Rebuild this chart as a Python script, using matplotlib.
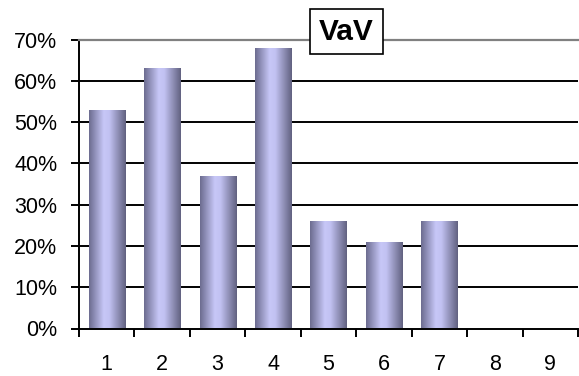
import numpy as np
import matplotlib.pyplot as plt
from matplotlib.colors import LinearSegmentedColormap

# dados do gráfico
categorias = [1, 2, 3, 4, 5, 6, 7, 8, 9]
valores = [0.53, 0.63, 0.37, 0.68, 0.26, 0.21, 0.26, 0.0, 0.0]
y_ticks = [0.0, 0.1, 0.2, 0.3, 0.4, 0.5, 0.6, 0.7]
y_labels = ['0%', '10%', '20%', '30%', '40%', '50%', '60%', '70%']
titulo = 'VaV'

plt.rcParams['font.family'] = ['Liberation Sans', 'DejaVu Sans']

fig = plt.figure(figsize=(5.79, 3.76), dpi=100)
ax = fig.add_axes([79/579, (376-328.5)/376, 499/579, (328.5-39.5)/376])

# gradiente horizontal das barras (estilo Excel)
cmap = LinearSegmentedColormap.from_list('barra', [
    (0.00, (0.42, 0.42, 0.56)),
    (0.40, (0.78, 0.78, 0.97)),
    (0.55, (0.76, 0.76, 0.95)),
    (1.00, (0.38, 0.38, 0.50)),
])
grad = np.linspace(0, 1, 256).reshape(1, -1)

largura = 0.65
barras = ax.bar(categorias, valores, width=largura, color='none',
                edgecolor='none', zorder=2)
for b in barras:
    if b.get_height() <= 0:
        continue
    x0, y0 = b.get_x(), b.get_y()
    im = ax.imshow(grad, cmap=cmap, aspect='auto', interpolation='bilinear',
                   extent=[x0, x0 + b.get_width(), y0, y0 + b.get_height()],
                   zorder=2)
    im.set_clip_path(b)

ax.set_xlim(0.5, 9.5)
ax.set_ylim(0, 0.7)

# grade
for v in y_ticks[1:-1]:
    ax.axhline(v, color='black', linewidth=1.4, zorder=1)

ax.set_yticks(y_ticks)
ax.set_yticklabels(y_labels, fontsize=15.5)
ax.set_xticks(categorias)
ax.set_xticklabels([str(c) for c in categorias], fontsize=15.5)
ax.set_xticks(np.arange(0.5, 10, 1.0), minor=True)

ax.tick_params(axis='x', which='major', length=0, pad=18.5)
ax.tick_params(axis='x', which='minor', length=6, width=1.4, direction='out')
ax.tick_params(axis='y', length=5.5, width=1.4, pad=10, direction='out')

for s in ['left', 'bottom']:
    ax.spines[s].set_linewidth(1.4)
    ax.spines[s].set_color('black')
ax.spines['right'].set_visible(False)
ax.spines['top'].set_color('#808080')
ax.spines['top'].set_linewidth(1.6)

fig.text(346.5/579, 1 - 31.5/376, titulo, ha='center', va='center',
         fontsize=21.5, fontweight='bold',
         bbox=dict(boxstyle='square,pad=0.3', facecolor='white',
                   edgecolor='black', linewidth=1.2))

fig.savefig('out.png', dpi=100)
